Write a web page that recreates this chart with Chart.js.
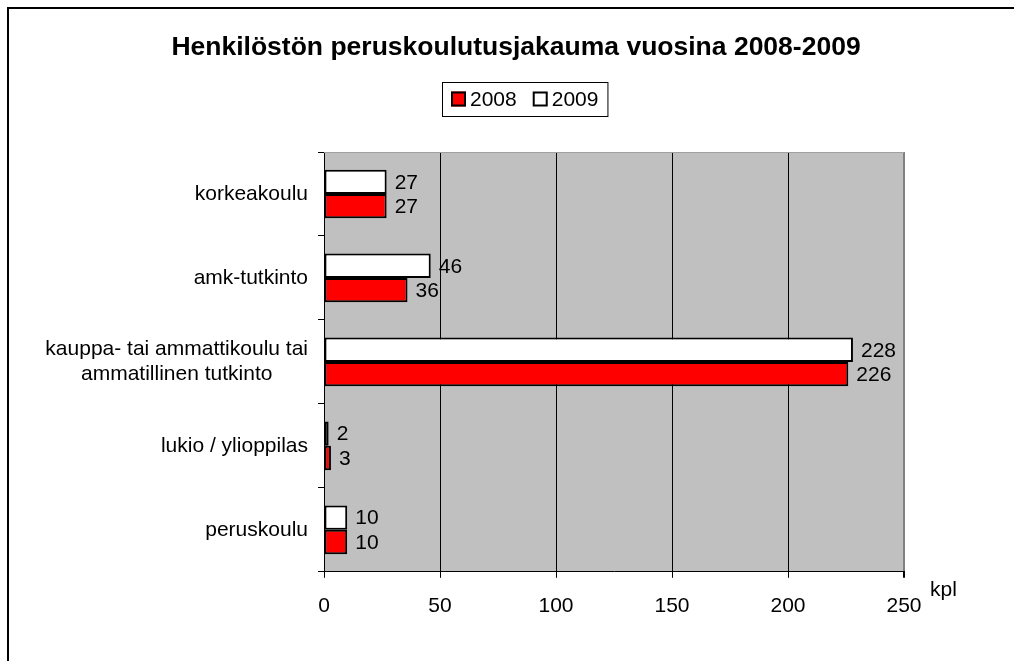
<!DOCTYPE html>
<html lang="fi">
<head>
  <meta charset="UTF-8">
  <script src="https://cdn.jsdelivr.net/npm/chart.js"></script>
  <style>
    html, body {
      margin: 0;
      padding: 0;
      background: #fff;
    }
    #wrap {
      width: 1014px;
      height: 661px;
    }
  </style>
</head>
<body>
  <div id="wrap"><canvas id="koulutus" width="1014" height="661"></canvas></div>
<script>
  // Data
  const categories = ["korkeakoulu", "amk-tutkinto", ["kauppa- tai ammattikoulu tai", "ammatillinen tutkinto"], "lukio / ylioppilas", "peruskoulu"];
  const values2008 = [27, 36, 226, 3, 10];
  const values2009 = [27, 46, 228, 2, 10];
  const xTicks = [0, 50, 100, 150, 200, 250];
  const titleText = "Henkilöstön peruskoulutusjakauma vuosina 2008-2009";
  const unitText = "kpl";

  const FONT = "'Liberation Sans', Arial, sans-serif";
  const SIZE = 21;

  // background, frame, labels, legend
  const decor = {
    id: 'decor',
    beforeDraw(chart) {
      const { ctx, chartArea: a } = chart;
      ctx.save();
      ctx.fillStyle = '#fff';
      ctx.fillRect(0, 0, chart.width, chart.height);
      ctx.fillStyle = '#c0c0c0';
      ctx.fillRect(a.left, a.top, a.right - a.left, a.bottom - a.top);
      // outer frame (left + top)
      ctx.strokeStyle = '#000';
      ctx.lineWidth = 2;
      ctx.beginPath();
      ctx.moveTo(8, chart.height);
      ctx.lineTo(8, 8);
      ctx.lineTo(chart.width, 8);
      ctx.stroke();
      ctx.restore();
    },
    afterDraw(chart) {
      const { ctx, chartArea: a } = chart;
      const yScale = chart.scales.y;
      ctx.save();

      // plot area top edge
      ctx.strokeStyle = '#a0a0a0';
      ctx.lineWidth = 1;
      ctx.beginPath();
      ctx.moveTo(a.left, a.top + 0.5);
      ctx.lineTo(a.right, a.top + 0.5);
      ctx.stroke();

      // title
      ctx.fillStyle = '#000';
      ctx.font = 'bold 26.5px ' + FONT;
      ctx.textAlign = 'center';
      ctx.textBaseline = 'middle';
      ctx.fillText(titleText, 516, 48);

      // category labels, lines centred on each other, block right-aligned
      ctx.font = SIZE + 'px ' + FONT;
      const rightEdge = a.left - 16;
      categories.forEach((lab, i) => {
        const lines = Array.isArray(lab) ? lab : [lab];
        const w = Math.max(...lines.map(l => ctx.measureText(l).width));
        const cx = rightEdge - w / 2;
        const yc = yScale.getPixelForValue(i);
        const lh = SIZE * 1.2;
        lines.forEach((l, k) => {
          ctx.fillText(l, cx, yc + (k - (lines.length - 1) / 2) * lh);
        });
      });

      // value labels
      ctx.textAlign = 'left';
      chart.data.datasets.forEach((ds, di) => {
        chart.getDatasetMeta(di).data.forEach((bar, i) => {
          ctx.fillText(String(ds.data[i]), bar.x + 8, bar.y + 1);
        });
      });

      // unit
      ctx.fillText(unitText, a.right + 26, a.bottom + 18);

      // legend (2008 first)
      const items = chart.data.datasets.slice().reverse();
      const box = 15, gapBox = 4, gapItem = 16, pad = 9;
      let total = pad * 2;
      items.forEach((ds, k) => {
        total += box + gapBox + ctx.measureText(ds.label).width + (k < items.length - 1 ? gapItem : 0);
      });
      const lx = Math.round(524.5 - total / 2);
      const ly = 82, lhgt = 34;
      ctx.strokeStyle = '#000';
      ctx.lineWidth = 1;
      ctx.strokeRect(lx + 0.5, ly + 0.5, total, lhgt);
      let x = lx + pad;
      const cy = ly + lhgt / 2;
      items.forEach((ds) => {
        ctx.fillStyle = ds.backgroundColor;
        ctx.fillRect(x, cy - box / 2, box, box);
        ctx.lineWidth = 2;
        ctx.strokeRect(x + 1, cy - box / 2 + 1, box - 2, box - 2);
        x += box + gapBox;
        ctx.fillStyle = '#000';
        ctx.fillText(ds.label, x, cy + 1);
        x += ctx.measureText(ds.label).width + gapItem;
      });

      ctx.restore();
    }
  };

  const ctx = document.getElementById('koulutus').getContext('2d');
  new Chart(ctx, {
    type: 'bar',
    data: {
      labels: categories,
      datasets: [
        {
          label: '2009',
          data: values2009,
          backgroundColor: '#ffffff',
          borderColor: '#000',
          borderWidth: 2,
          borderSkipped: false
        },
        {
          label: '2008',
          data: values2008,
          backgroundColor: '#ff0000',
          borderColor: '#000',
          borderWidth: 2,
          borderSkipped: false
        }
      ]
    },
    options: {
      indexAxis: 'y',
      responsive: false,
      animation: false,
      categoryPercentage: 0.58,
      barPercentage: 1.0,
      layout: {
        padding: { top: 152, right: 110, bottom: 26, left: 0 }
      },
      plugins: {
        legend: { display: false },
        title: { display: false },
        tooltip: { enabled: false }
      },
      scales: {
        x: {
          min: 0,
          max: 250,
          afterBuildTicks: s => { s.ticks = xTicks.map(v => ({ value: v })); },
          ticks: {
            color: '#000',
            font: { family: FONT, size: SIZE },
            padding: 16,
            maxRotation: 0
          },
          grid: {
            color: c => (c.tick && c.tick.value === 250) ? '#808080' : '#000',
            lineWidth: c => (c.tick && c.tick.value === 250) ? 2 : 1,
            tickColor: '#000',
            tickLength: 6
          },
          border: { color: '#000', width: 1 }
        },
        y: {
          ticks: { display: false },
          grid: {
            offset: true,
            drawOnChartArea: false,
            color: '#000',
            tickLength: 6
          },
          border: { color: '#000', width: 1 },
          afterFit: s => { s.width = 324; }
        }
      }
    },
    plugins: [decor]
  });
</script>
</body>
</html>
